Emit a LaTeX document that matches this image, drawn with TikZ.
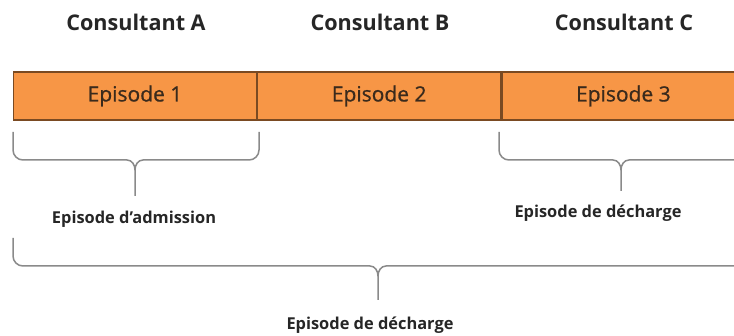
\documentclass[tikz,border=0pt]{standalone}
\usepackage{fontspec}
\setmainfont{Open Sans}
\newfontfamily\epifont[FakeBold=0.8]{Open Sans}
\usepackage{tikz}
\usetikzlibrary{positioning}
\definecolor{epiorange}{HTML}{F79646}
\definecolor{epiedge}{HTML}{7A4A22}
\definecolor{epitext}{HTML}{3A2A1C}
\definecolor{bracegray}{HTML}{8A8A8A}
\tikzset{episode/.style={draw=epiedge,fill=epiorange,text=epitext,line width=0.6pt,
   minimum width=121.5pt,minimum height=24pt,inner sep=0pt,font=\epifont\fontsize{10.5}{13}\selectfont},
 consultant/.style={font=\fontsize{10.8}{14}\selectfont\bfseries,text=black!85},
 bracelabel/.style={font=\fontsize{8.2}{11}\selectfont\bfseries,text=black!85},
 bracket/.style={draw=bracegray,line width=0.75pt}}
% bracket: left x, right x, top y, bar y, tip x, tip y
\newcommand{\epibrace}[6]{%
 \draw[bracket] (#1,#3) -- (#1,#4-10) to[out=-90,in=180] (#1+10,#4) -- (#5-8,#4)
   to[out=0,in=90] (#5,#4+10) -- (#5,#6);
 \draw[bracket] (#2,#3) -- (#2,#4-10) to[out=-90,in=0] (#2-10,#4) -- (#5+8,#4)
   to[out=180,in=90] (#5,#4+10);
}

\begin{document}
\begin{tikzpicture}[x=0.5pt,y=-0.5pt]
\useasboundingbox (0,0) rectangle (734,336);
\clip (0,0) rectangle (734,336);
\node[episode] (ep1) at (135,96) {Episode 1};
\node[episode,right=0pt of ep1] (ep2) {Episode 2};
\node[episode,right=0pt of ep2] (ep3) {Episode 3};
\foreach \n/\x in {A/136,B/380,C/624} {
 \node[consultant] (cons\n) at (\x,22) {Consultant \n};
}
\epibrace{13}{259}{132}{160}{135}{196}
\epibrace{499}{760}{132}{160}{621}{191}
\epibrace{13}{760}{238}{266}{378}{300}
\node[bracelabel] (adm) at (134,219) {Episode d’admission};
\node[bracelabel] (dech) at (598,213) {Episode de décharge};
\node[bracelabel] (sejour) at (370,325) {Episode de décharge};
\end{tikzpicture}
\end{document}
